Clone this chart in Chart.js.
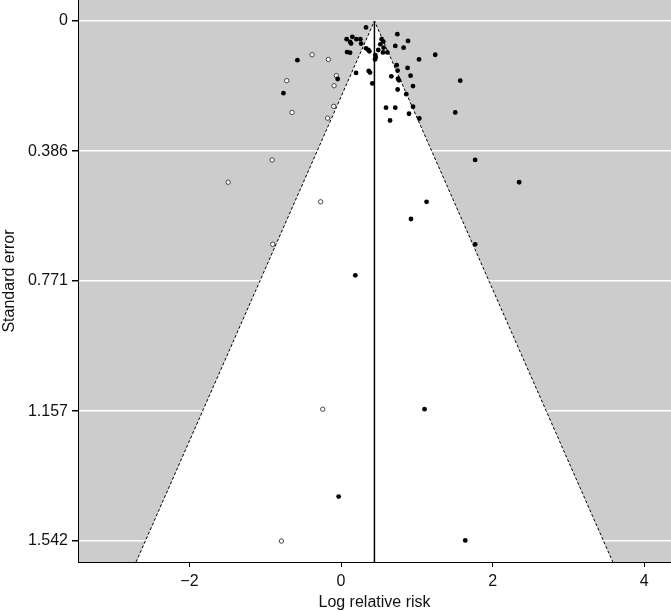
<!DOCTYPE html>
<html>
<head>
<meta charset="utf-8">
<script src="https://cdn.jsdelivr.net/npm/chart.js@4/dist/chart.umd.min.js"></script>
<style>
  html, body { margin: 0; padding: 0; background: #fff; }
  #wrap { width: 671px; height: 612px; }
</style>
</head>
<body>
<div id="wrap"><canvas id="funnel-chart" width="671" height="612"></canvas></div>
<script>
// studies (filled = observed, open = filled-in)
const observedLogRR = [0.329, 0.742, 0.149, 0.074, 0.202, 0.254, 0.119, 0.132, 0.264, 0.535,
    0.557, 0.518, 0.883, 0.715, 0.825, 0.329, 0.360, 0.373, 0.491, 0.561,
    0.553, 0.610, 0.079, 0.119, 0.452, 0.456, 0.448, 1.242, 1.028, -0.576,
    0.733, 0.877, 0.746, 0.198, 0.364, 0.382, 0.917, 0.663, 0.751, 0.764,
    1.572, -0.045, 0.412, 0.949, -0.760, 0.746, 0.860, 0.593, 0.715, 0.949,
    0.896, 1.506, 1.032, 0.646, 1.769, 2.349, 1.128, 0.922, 1.769, 0.188,
    1.101, -0.032, 1.638];
const observedSE = [0.019, 0.039, 0.047, 0.054, 0.054, 0.054, 0.062, 0.067, 0.067, 0.054,
    0.061, 0.069, 0.059, 0.074, 0.079, 0.081, 0.086, 0.090, 0.086, 0.079,
    0.093, 0.093, 0.092, 0.094, 0.101, 0.108, 0.114, 0.100, 0.114, 0.116,
    0.131, 0.139, 0.147, 0.154, 0.148, 0.153, 0.162, 0.164, 0.171, 0.176,
    0.177, 0.172, 0.185, 0.193, 0.214, 0.203, 0.217, 0.257, 0.257, 0.254,
    0.275, 0.271, 0.289, 0.295, 0.412, 0.478, 0.536, 0.587, 0.662, 0.754,
    1.151, 1.410, 1.540];
const filledLogRR = [-0.382, -0.167, -0.062, -0.717, -0.092, -0.646, -0.097, -0.177, -0.909, -1.489,
    -0.269, -0.901, -0.242, -0.787];
const filledSE = [0.100, 0.114, 0.162, 0.177, 0.192, 0.271, 0.253, 0.288, 0.412, 0.478,
    0.536, 0.662, 1.151, 1.542];

const pooledLogRR = [0.44];
const seTicks = [0, 0.386, 0.771, 1.157, 1.542];
const logRRTicks = [-2, 0, 2, 4];
const seRange = [-0.0623, 1.604];
const logRRRange = [-3.47, 4.352];

function initializeFunnelChart() {
    const centre = pooledLogRR[0];
    const seMax = seRange[1];
    const funnel = [
        {x: centre - 1.96 * seMax, y: seMax},
        {x: centre, y: 0},
        {x: centre + 1.96 * seMax, y: seMax}
    ];
    const observed = observedLogRR.map((x, i) => ({x: x, y: observedSE[i]}));
    const filled = filledLogRR.map((x, i) => ({x: x, y: filledSE[i]}));

    const panelBackground = {
        id: 'panelBackground',
        beforeDraw(chart) {
            const a = chart.chartArea;
            const ctx = chart.ctx;
            ctx.save();
            ctx.fillStyle = '#cccccc';
            ctx.fillRect(a.left, a.top, a.right - a.left, a.bottom - a.top);
            ctx.restore();
        }
    };

    const noPadding = (scale) => {
        scale.paddingTop = 0;
        scale.paddingBottom = 0;
        scale.paddingLeft = 0;
        scale.paddingRight = 0;
    };

    const context = document.getElementById('funnel-chart').getContext('2d');
    new Chart(context, {
        type: 'scatter',
        data: {
            datasets: [{
                data: observed,
                backgroundColor: '#000',
                borderColor: '#000',
                borderWidth: 0,
                pointRadius: 2.4,
                order: 0
            }, {
                data: filled,
                backgroundColor: '#fff',
                borderColor: '#444',
                borderWidth: 1,
                pointRadius: 2.2,
                order: 0
            }, {
                type: 'line',
                data: [{x: centre, y: 0}, {x: centre, y: seMax}],
                borderColor: '#000',
                borderWidth: 1.5,
                pointRadius: 0,
                fill: false,
                order: 1
            }, {
                type: 'line',
                data: funnel,
                borderColor: '#000',
                borderWidth: 1,
                borderDash: [3, 2],
                backgroundColor: '#fff',
                pointRadius: 0,
                tension: 0,
                fill: 'shape',
                order: 2
            }]
        },
        options: {
            responsive: false,
            animation: false,
            events: [],
            layout: {padding: 0, autoPadding: false},
            plugins: {
                legend: {display: false},
                tooltip: {enabled: false}
            },
            scales: {
                x: {
                    type: 'linear',
                    min: logRRRange[0],
                    max: logRRRange[1],
                    afterBuildTicks: (scale) => { scale.ticks = logRRTicks.map(v => ({value: v})); },
                    afterFit: (scale) => { scale.height = 50; noPadding(scale); },
                    grid: {drawOnChartArea: false, tickColor: '#000', tickLength: 5},
                    border: {color: '#000', width: 1, z: 1},
                    ticks: {
                        color: '#111',
                        padding: 5,
                        maxRotation: 0,
                        font: {family: 'Liberation Sans, Arial, sans-serif', size: 16},
                        callback: (v) => (v < 0 ? '\u2212' + Math.abs(v) : String(v))
                    },
                    title: {
                        display: true,
                        text: 'Log relative risk',
                        color: '#111',
                        padding: {top: 0, bottom: 0},
                        font: {family: 'Liberation Sans, Arial, sans-serif', size: 16}
                    }
                },
                y: {
                    type: 'linear',
                    reverse: true,
                    min: seRange[0],
                    max: seRange[1],
                    afterBuildTicks: (scale) => { scale.ticks = seTicks.map(v => ({value: v})); },
                    afterFit: (scale) => { scale.width = 78; noPadding(scale); },
                    grid: {color: '#ffffff', lineWidth: 1.5, tickColor: '#000', tickLength: 6},
                    border: {color: '#000', width: 1, z: 1},
                    ticks: {
                        color: '#111',
                        padding: 4,
                        font: {family: 'Liberation Sans, Arial, sans-serif', size: 16},
                        callback: (v) => String(v)
                    },
                    title: {
                        display: true,
                        text: 'Standard error',
                        color: '#111',
                        padding: {top: 0, bottom: 0},
                        font: {family: 'Liberation Sans, Arial, sans-serif', size: 16}
                    }
                }
            }
        },
        plugins: [panelBackground]
    });
}

window.onload = () => {
    initializeFunnelChart();
};
</script>
</body>
</html>
